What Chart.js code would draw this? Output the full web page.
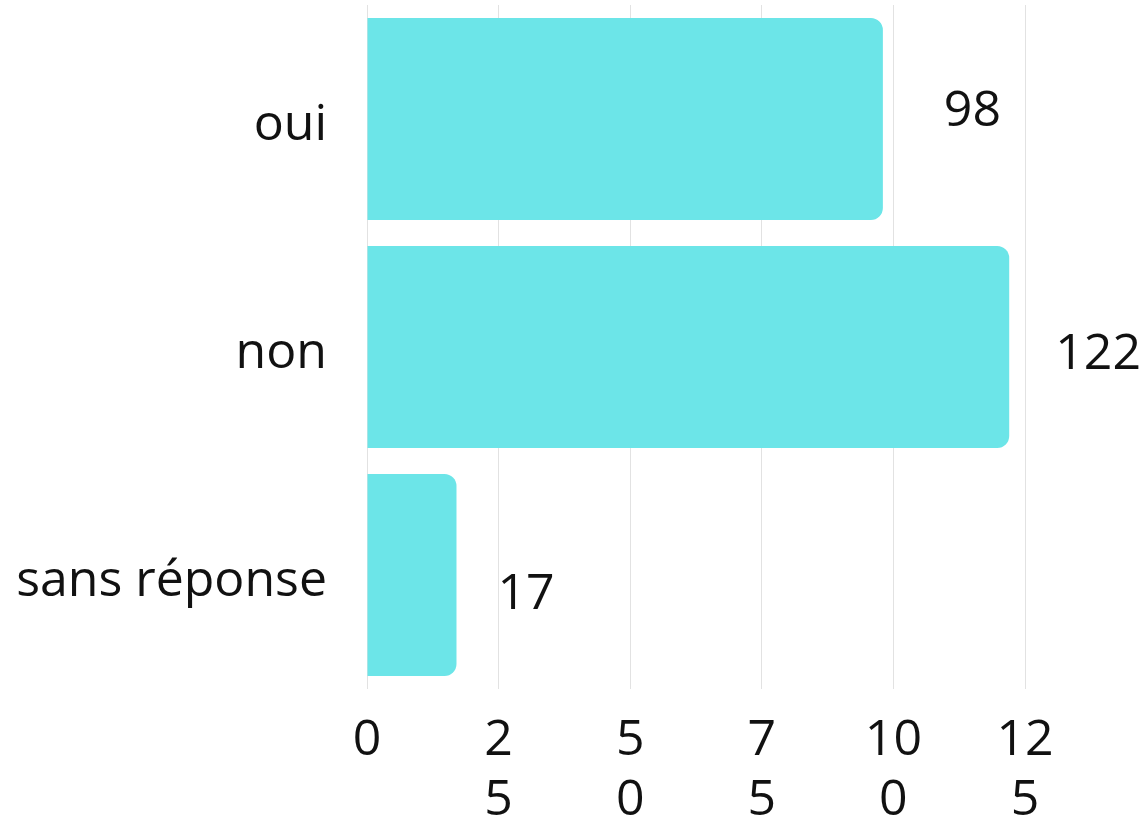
<!DOCTYPE html>
<html>
<head>
<meta charset="utf-8">
<script src="https://cdn.jsdelivr.net/npm/chart.js@4/dist/chart.umd.min.js"></script>
<style>
  html, body { margin: 0; padding: 0; background: #fff; }
  #wrap { width: 1143px; height: 823px; position: relative; }
</style>
</head>
<body>
<div id="wrap"><canvas id="myChart"></canvas></div>
<script>
// data
var categories = ['oui', 'non', 'sans réponse'];
var counts = [98, 122, 17];
var xTicks = [0, 25, 50, 75, 100, 125];

// value label nudges (px)
var labelDx = [61, 46, 41];
var labelDy = [-7, 8, 20];

const valueLabels = {
  id: 'valueLabels',
  afterDatasetsDraw(chart) {
    const ctx = chart.ctx;
    const meta = chart.getDatasetMeta(0);
    ctx.save();
    ctx.font = '50px "Open Sans"';
    ctx.fillStyle = '#111';
    ctx.textAlign = 'left';
    ctx.textBaseline = 'middle';
    meta.data.forEach((bar, i) => {
      ctx.fillText(String(counts[i]), bar.x + labelDx[i], bar.y + labelDy[i]);
    });
    ctx.restore();
  }
};

// keep the plot area where the original had it
function noPad(axis) {
  axis.paddingTop = 0;
  axis.paddingBottom = 0;
  axis.paddingLeft = 0;
  axis.paddingRight = 0;
}

new Chart('myChart', {
  type: 'bar',
  data: {
    labels: categories,
    datasets: [{
      data: counts,
      backgroundColor: '#6ce5e8',
      borderWidth: 0,
      borderRadius: 12,
      barPercentage: 0.886,
      categoryPercentage: 1
    }]
  },
  options: {
    indexAxis: 'y',
    responsive: true,
    maintainAspectRatio: false,
    animation: false,
    layout: { padding: { top: 5, right: 118, bottom: 0, left: 0 } },
    plugins: {
      legend: { display: false },
      tooltip: { enabled: false }
    },
    scales: {
      x: {
        min: 0,
        max: 125,
        afterBuildTicks: (axis) => { axis.ticks = xTicks.map(v => ({ value: v })); },
        afterFit: (axis) => { noPad(axis); axis.height = 134; },
        border: { display: false },
        grid: { color: '#e2e2e2', lineWidth: 1, drawTicks: false },
        ticks: {
          color: '#111',
          padding: 22,
          maxRotation: 0,
          autoSkip: false,
          font: { family: '"Open Sans"', size: 50, lineHeight: 1.2 },
          callback: (v) => {
            const s = String(v);
            return s.length > 1 ? [s.slice(0, -1), s.slice(-1)] : s;
          }
        }
      },
      y: {
        afterFit: (axis) => { noPad(axis); axis.width = 367; },
        border: { display: false },
        grid: { display: false, drawTicks: false },
        ticks: {
          color: '#111',
          padding: 40,
          labelOffset: 7,
          font: { family: '"Open Sans"', size: 50 }
        }
      }
    }
  },
  plugins: [valueLabels]
});
</script>
</body>
</html>
